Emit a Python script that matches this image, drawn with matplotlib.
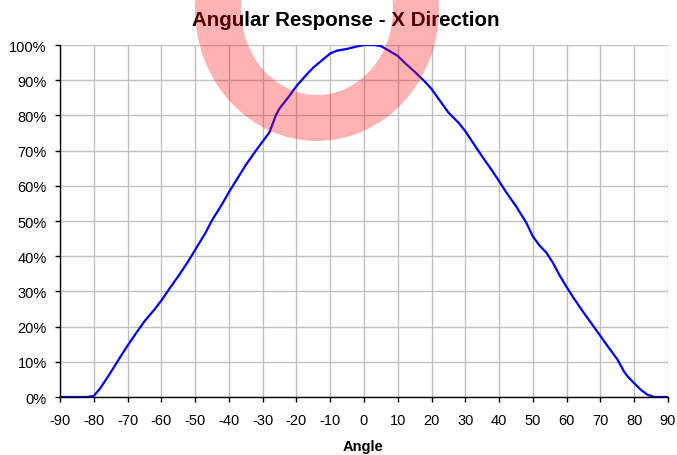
import matplotlib
matplotlib.use("Agg")
import matplotlib.pyplot as plt
from matplotlib.patches import Annulus
from matplotlib.transforms import IdentityTransform
from matplotlib.ticker import FuncFormatter

plt.rcParams['font.family'] = ['Liberation Sans', 'DejaVu Sans']
plt.rcParams['axes.unicode_minus'] = False

angles = [-90, -85, -82, -80, -78, -75, -72, -70, -67, -65, -62, -60, -57, -55,
          -52, -50, -47, -45, -42, -40, -37, -35, -32, -30, -28, -26, -25, -23,
          -20, -17, -15, -12, -10, -8, -5, -2, 0, 3, 5, 7, 10, 12, 15, 18, 20,
          22, 25, 28, 30, 32, 35, 38, 40, 42, 45, 48, 50, 52, 54, 56, 58, 60,
          62, 65, 68, 70, 72, 75, 77, 78, 80, 82, 84, 86, 88, 90]
response = [0.0, 0.0, 0.0, 0.3, 2.6, 7.0, 11.6, 14.6, 18.8, 21.5, 24.9, 27.4,
            31.6, 34.3, 38.6, 41.8, 46.5, 50.2, 54.8, 58.2, 62.8, 65.9, 70.0,
            72.6, 75.2, 80.2, 82.0, 84.4, 88.3, 91.6, 93.6, 96.0, 97.6, 98.4,
            98.9, 99.6, 100.0, 100.0, 99.7, 98.6, 96.9, 95.0, 92.4, 89.6, 87.5,
            84.8, 80.8, 77.9, 75.5, 72.6, 68.3, 64.2, 61.3, 58.3, 54.2, 49.6,
            45.6, 43.0, 41.0, 38.0, 34.4, 31.2, 28.2, 24.0, 20.0, 17.3, 14.6,
            10.7, 7.2, 5.9, 3.9, 2.0, 0.6, 0.0, 0.0, 0.0]
x_ticks = list(range(-90, 91, 10))
y_ticks = list(range(0, 101, 10))
title = "Angular Response - X Direction"
x_label = "Angle"

W, H = 677, 456
fig = plt.figure(figsize=(W / 100, H / 100), dpi=100)
ax = fig.add_axes([60 / W, 1 - 398 / H, (668 - 60) / W, (398 - 46) / H])

ax.plot(angles, response, color='#0000ff', linewidth=1.6, zorder=3)

ax.set_xlim(-90, 90)
ax.set_ylim(0, 100)
ax.set_xticks(x_ticks)
ax.set_yticks(y_ticks)
ax.yaxis.set_major_formatter(FuncFormatter(lambda v, p: f"{int(v)}%"))
ax.grid(True, color='#c0c0c0', linewidth=1.0, zorder=0)
ax.set_axisbelow(True)
for s in ['top', 'right']:
    ax.spines[s].set_visible(False)
for s in ['left', 'bottom']:
    ax.spines[s].set_color('black')
    ax.spines[s].set_linewidth(1.0)
    ax.spines[s].set_zorder(4)
ax.tick_params(axis='both', direction='out', length=3.6, width=1.0,
               labelsize=10.5, colors='black')
ax.tick_params(axis='y', pad=6)
ax.tick_params(axis='x', pad=8)

fig.text(346 / W, 1 - 21 / H, title, ha='center', va='center',
         fontsize=14.75, fontweight='bold')
fig.text(363 / W, 1 - 447 / H, x_label, ha='center', va='center',
         fontsize=10.5, fontweight='bold')

ring = Annulus((317, H - 10), (122, 132), 46, transform=IdentityTransform(),
               facecolor=(1.0, 0.0, 0.0, 0.3), edgecolor='none', zorder=10)
fig.add_artist(ring)

fig.savefig("out.png", dpi=100)
